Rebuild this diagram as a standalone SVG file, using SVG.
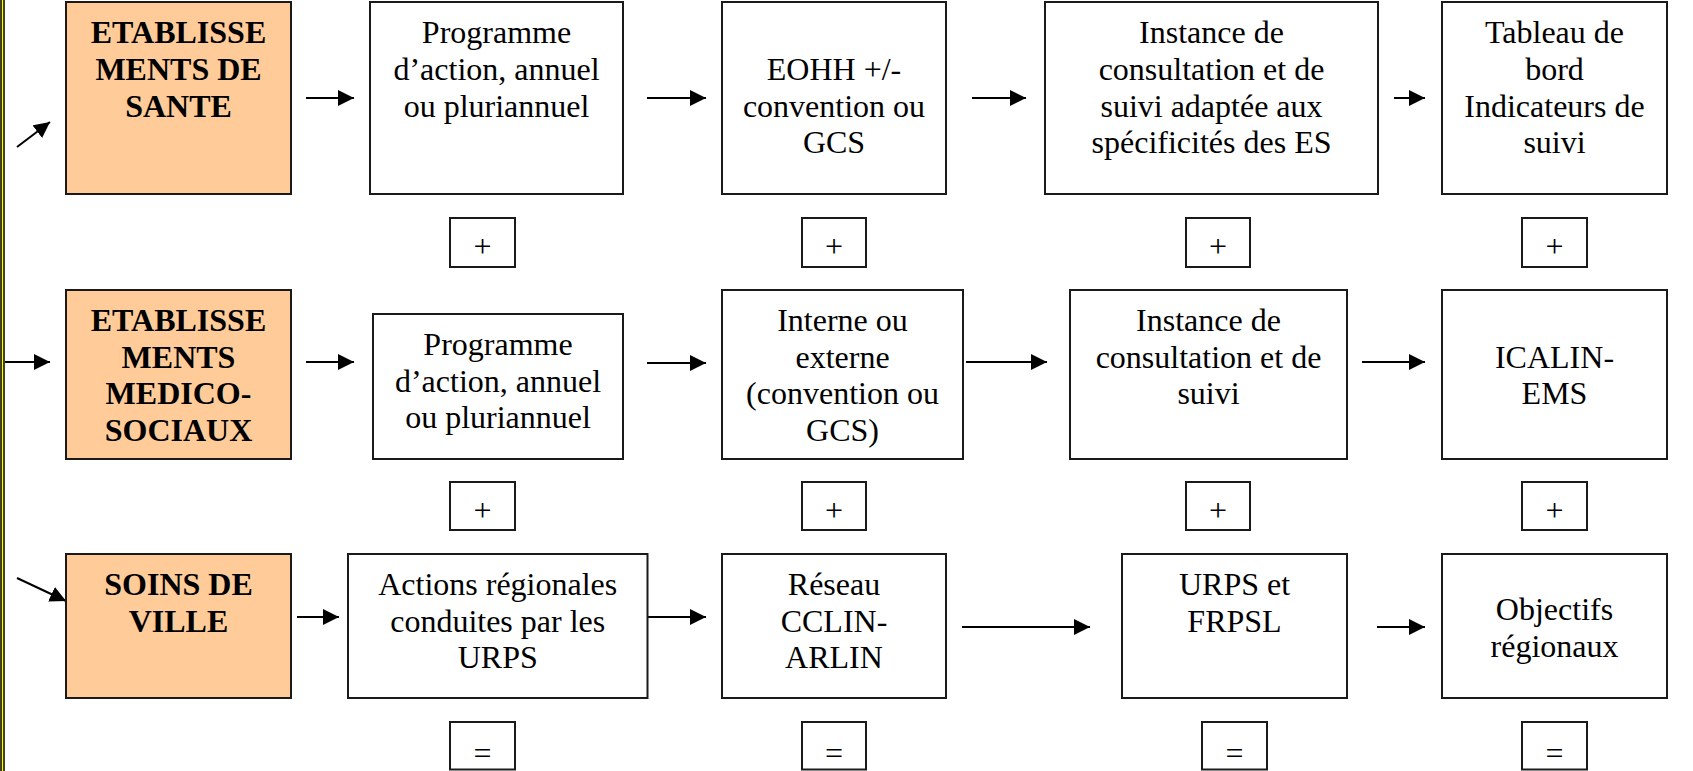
<svg xmlns="http://www.w3.org/2000/svg" width="1693" height="771" viewBox="0 0 1693 771">
<defs>
<style>
.bx{fill:#fff;stroke:#1a1a1a;stroke-width:2}
.or{fill:#FFCC99;stroke:#1a1a1a;stroke-width:2}
.t{font-family:"Liberation Serif","Times New Roman",serif;font-size:32px;fill:#000;text-anchor:middle}
.b{font-weight:bold}
.ar{stroke:#000;stroke-width:2;fill:none;marker-end:url(#ah)}
</style>
<marker id="ah" markerUnits="userSpaceOnUse" markerWidth="16" markerHeight="16" refX="16" refY="8" orient="auto" viewBox="0 0 16 16">
<path d="M0,0 L16,8 L0,16 z" fill="#000"/>
</marker>
</defs>
<rect width="1693" height="771" fill="#fff"/>
<rect x="1" y="-5" width="3" height="781" fill="#FFFF00" stroke="#000" stroke-width="1.5"/>

<g id="connectors">
<line class="ar" x1="17" y1="147" x2="50" y2="122"/>
<line class="ar" x1="306" y1="98" x2="354" y2="98"/>
<line class="ar" x1="647" y1="98" x2="706" y2="98"/>
<line class="ar" x1="972" y1="98" x2="1026" y2="98"/>
<line class="ar" x1="1394" y1="98" x2="1425" y2="98"/>

<line class="ar" x1="5" y1="362" x2="50" y2="362"/>
<line class="ar" x1="306" y1="362" x2="354" y2="362"/>
<line class="ar" x1="647" y1="363" x2="706" y2="363"/>
<line class="ar" x1="966" y1="362" x2="1047" y2="362"/>
<line class="ar" x1="1362" y1="362" x2="1425" y2="362"/>

<line class="ar" x1="17" y1="578" x2="66" y2="601"/>
<line class="ar" x1="297" y1="617" x2="339" y2="617"/>
<line class="ar" x1="648" y1="617" x2="706" y2="617"/>
<line class="ar" x1="962" y1="627" x2="1090" y2="627"/>
<line class="ar" x1="1377" y1="627" x2="1425" y2="627"/>
</g>

<g id="es">
<rect class="or" x="66" y="2" width="225" height="192"/>
<text class="t b" x="178.5" y="43">ETABLISSE</text>
<text class="t b" x="178.5" y="80">MENTS DE</text>
<text class="t b" x="178.5" y="116.5">SANTE</text>
</g>
<g id="es-programme">
<rect class="bx" x="370" y="2" width="253" height="192"/>
<text class="t" x="496.5" y="43">Programme</text>
<text class="t" x="496.5" y="80">d’action, annuel</text>
<text class="t" x="496.5" y="116.5">ou pluriannuel</text>
</g>
<g id="es-eohh">
<rect class="bx" x="722" y="2" width="224" height="192"/>
<text class="t" x="834" y="80">EOHH +/-</text>
<text class="t" x="834" y="116.5">convention ou</text>
<text class="t" x="834" y="153">GCS</text>
</g>
<g id="es-instance">
<rect class="bx" x="1045" y="2" width="333" height="192"/>
<text class="t" x="1211.5" y="43">Instance de</text>
<text class="t" x="1211.5" y="80">consultation et de</text>
<text class="t" x="1211.5" y="116.5">suivi adaptée aux</text>
<text class="t" x="1211.5" y="153">spécificités des ES</text>
</g>
<g id="es-tableau">
<rect class="bx" x="1442" y="2" width="225" height="192"/>
<text class="t" x="1554.5" y="43">Tableau de</text>
<text class="t" x="1554.5" y="80">bord</text>
<text class="t" x="1554.5" y="116.5">Indicateurs de</text>
<text class="t" x="1554.5" y="153">suivi</text>
</g>
<g id="plus-r1">
<rect class="bx" x="450" y="218" width="65" height="49"/><text class="t" x="482.5" y="257">+</text>
<rect class="bx" x="802" y="218" width="64" height="49"/><text class="t" x="834" y="257">+</text>
<rect class="bx" x="1186" y="218" width="64" height="49"/><text class="t" x="1218" y="257">+</text>
<rect class="bx" x="1522" y="218" width="65" height="49"/><text class="t" x="1554.5" y="257">+</text>
</g>

<g id="ems">
<rect class="or" x="66" y="290" width="225" height="169"/>
<text class="t b" x="178.5" y="331">ETABLISSE</text>
<text class="t b" x="178.5" y="367.7">MENTS</text>
<text class="t b" x="178.5" y="404.3">MEDICO-</text>
<text class="t b" x="178.5" y="441">SOCIAUX</text>
</g>
<g id="ems-programme">
<rect class="bx" x="373" y="314" width="250" height="145"/>
<text class="t" x="498" y="355">Programme</text>
<text class="t" x="498" y="391.7">d’action, annuel</text>
<text class="t" x="498" y="428.4">ou pluriannuel</text>
</g>
<g id="ems-interne">
<rect class="bx" x="722" y="290" width="241" height="169"/>
<text class="t" x="842.5" y="331">Interne ou</text>
<text class="t" x="842.5" y="367.7">externe</text>
<text class="t" x="842.5" y="404.3">(convention ou</text>
<text class="t" x="842.5" y="441">GCS)</text>
</g>
<g id="ems-instance">
<rect class="bx" x="1070" y="290" width="277" height="169"/>
<text class="t" x="1208.5" y="331">Instance de</text>
<text class="t" x="1208.5" y="367.7">consultation et de</text>
<text class="t" x="1208.5" y="404.3">suivi</text>
</g>
<g id="ems-icalin">
<rect class="bx" x="1442" y="290" width="225" height="169"/>
<text class="t" x="1554.5" y="367.7">ICALIN-</text>
<text class="t" x="1554.5" y="404.3">EMS</text>
</g>
<g id="plus-r2">
<rect class="bx" x="450" y="482" width="65" height="48"/><text class="t" x="482.5" y="521">+</text>
<rect class="bx" x="802" y="482" width="64" height="48"/><text class="t" x="834" y="521">+</text>
<rect class="bx" x="1186" y="482" width="64" height="48"/><text class="t" x="1218" y="521">+</text>
<rect class="bx" x="1522" y="482" width="65" height="48"/><text class="t" x="1554.5" y="521">+</text>
</g>

<g id="ville">
<rect class="or" x="66" y="554" width="225" height="144"/>
<text class="t b" x="178.5" y="595">SOINS DE</text>
<text class="t b" x="178.5" y="631.7">VILLE</text>
</g>
<g id="ville-actions">
<rect class="bx" x="348" y="554" width="299.5" height="144"/>
<text class="t" x="497.7" y="595">Actions régionales</text>
<text class="t" x="497.7" y="631.7">conduites par les</text>
<text class="t" x="497.7" y="668.3">URPS</text>
</g>
<g id="ville-reseau">
<rect class="bx" x="722" y="554" width="224" height="144"/>
<text class="t" x="834" y="595">Réseau</text>
<text class="t" x="834" y="631.7">CCLIN-</text>
<text class="t" x="834" y="668.3">ARLIN</text>
</g>
<g id="ville-urps">
<rect class="bx" x="1122" y="554" width="225" height="144"/>
<text class="t" x="1234.5" y="595">URPS et</text>
<text class="t" x="1234.5" y="631.7">FRPSL</text>
</g>
<g id="ville-objectifs">
<rect class="bx" x="1442" y="554" width="225" height="144"/>
<text class="t" x="1554.5" y="620">Objectifs</text>
<text class="t" x="1554.5" y="656.7">régionaux</text>
</g>
<g id="equal-r3">
<rect class="bx" x="450" y="722" width="65" height="47.5"/><text class="t" x="482.5" y="764">=</text>
<rect class="bx" x="802" y="722" width="64" height="47.5"/><text class="t" x="834" y="764">=</text>
<rect class="bx" x="1202" y="722" width="65" height="47.5"/><text class="t" x="1234.5" y="764">=</text>
<rect class="bx" x="1522" y="722" width="65" height="47.5"/><text class="t" x="1554.5" y="764">=</text>
</g>
</svg>
